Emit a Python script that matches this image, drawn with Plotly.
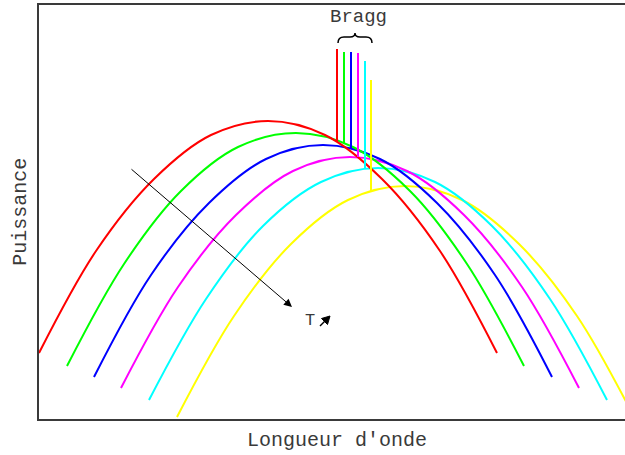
"""Courbes de puissance en fonction de la longueur d'onde, avec raies de Bragg."""

import plotly.graph_objects as go

# Couleurs des courbes, de la plus froide à la plus chaude
couleurs = ["#ff0000", "#00ff00", "#0000ff", "#ff00ff", "#00ffff", "#ffff00"]

# Points relevés sur chaque courbe (unités arbitraires)
x_rouge = [0, 57, 115, 172, 229, 286, 343, 401, 458]
y_rouge = [66, 168, 240, 284, 298, 284, 240, 168, 66]
x_vert = [28, 85, 142, 199, 257, 314, 371, 428, 485]
y_vert = [53, 155, 228, 272, 286, 272, 228, 155, 53]
x_bleu = [55, 112, 170, 227, 284, 341, 398, 456, 513]
y_bleu = [42, 144, 216, 260, 274, 260, 216, 144, 42]
x_magenta = [82, 139, 197, 254, 311, 368, 425, 483, 540]
y_magenta = [31, 132, 204, 248, 262, 248, 204, 132, 31]
x_cyan = [110, 167, 224, 282, 339, 396, 453, 511, 568]
y_cyan = [19, 120, 193, 237, 251, 237, 193, 120, 19]
x_jaune = [138, 195, 252, 309, 366, 423, 480, 538, 595]
y_jaune = [2, 103, 175, 219, 233, 219, 175, 103, 2]

courbes_x = [x_rouge, x_vert, x_bleu, x_magenta, x_cyan, x_jaune]
courbes_y = [y_rouge, y_vert, y_bleu, y_magenta, y_cyan, y_jaune]

# Raies de Bragg : position, pied et sommet
bragg_x = [298, 305, 312, 319, 326, 332]
bragg_bas = [277, 275, 271, 262, 250, 228]
bragg_haut = [370, 367, 367, 366, 358, 339]

police = "Liberation Mono, Courier New, monospace"
gris = "#3a3a3a"

fig = go.Figure()

# on trace de la jaune à la rouge pour que la rouge soit au-dessus
for i in reversed(range(len(couleurs))):
    fig.add_trace(go.Scatter(x=courbes_x[i], y=courbes_y[i], mode="lines",
                             line=dict(color=couleurs[i], width=2, shape="spline"),
                             hoverinfo="skip"))

for i in range(len(couleurs)):
    fig.add_trace(go.Scatter(x=[bragg_x[i], bragg_x[i]], y=[bragg_bas[i], bragg_haut[i]],
                             mode="lines", line=dict(color=couleurs[i], width=2),
                             hoverinfo="skip"))

# accolade au-dessus des raies
fig.add_shape(type="path",
              path="M 299,376 Q 299,382 305,382 L 311,382 Q 316,382 316,386 "
                   "Q 316,382 321,382 L 327,382 Q 333,382 333,376",
              line=dict(color="black", width=1.5), xref="x", yref="y")

fig.add_annotation(x=319, y=402, text="Bragg", showarrow=False,
                   font=dict(family=police, size=19, color=gris))

# flèche de la température
fig.add_annotation(x=253, y=112, ax=91, ay=251, axref="x", ayref="y",
                   xref="x", yref="y", text="", showarrow=True,
                   arrowhead=2, arrowsize=1.6, arrowwidth=1, arrowcolor="black")
fig.add_annotation(x=271, y=99, text="T", showarrow=False,
                   font=dict(family=police, size=17, color=gris))
# petite flèche montante à côté du T
fig.add_shape(type="path", path="M 291,103 L 282.5,100.5 L 288.5,94.5 Z",
              line=dict(color="black", width=1), fillcolor="black", xref="x", yref="y")
fig.add_shape(type="line", x0=285.5, y0=97.5, x1=281, y1=93,
              line=dict(color="black", width=1.5), xref="x", yref="y")

fig.add_annotation(x=0.5085, y=-0.053, xref="paper", yref="paper", text="Longueur d'onde",
                   xanchor="center", yanchor="middle", showarrow=False,
                   font=dict(family=police, size=20, color=gris))
fig.add_annotation(x=-0.033, y=0.5, xref="paper", yref="paper", text="Puissance",
                   xanchor="center", yanchor="middle", showarrow=False, textangle=-90,
                   font=dict(family=police, size=20, color=gris))

fig.update_xaxes(range=[0, 586], showgrid=False, zeroline=False, showticklabels=False,
                 ticks="", showline=True, linecolor=gris, linewidth=2, mirror=True)
fig.update_yaxes(range=[0, 414], showgrid=False, zeroline=False, showticklabels=False,
                 ticks="", showline=True, linecolor=gris, linewidth=2)

fig.update_layout(width=625, height=455, showlegend=False,
                  margin=dict(l=39, r=0, t=5, b=36, autoexpand=False),
                  plot_bgcolor="white", paper_bgcolor="white")

# la page a une marge par défaut de 8 px : on la retire
fig.write_html("out.html", config={"displayModeBar": False},
               post_script="document.body.style.margin='0';")
